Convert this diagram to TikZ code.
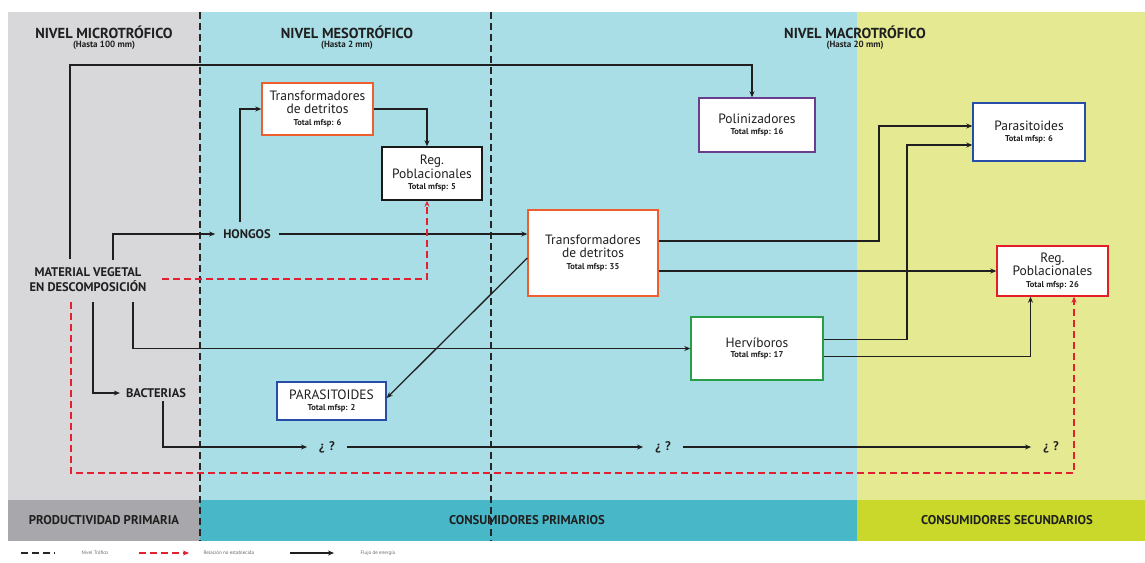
\documentclass[tikz,border=0pt]{standalone}
\usepackage{fontspec}
\setmainfont{PT Sans}
\usetikzlibrary{arrows.meta}

\definecolor{bgGray}{RGB}{216,216,218}
\definecolor{bgBlue}{RGB}{170,222,230}
\definecolor{bgYel}{RGB}{228,233,146}
\definecolor{bandGray}{RGB}{168,168,172}
\definecolor{bandTeal}{RGB}{72,183,199}
\definecolor{bandYel}{RGB}{201,216,42}
\definecolor{relRed}{RGB}{226,32,48}
\definecolor{boxOrange}{RGB}{238,95,45}
\definecolor{boxRed}{RGB}{228,30,38}
\definecolor{boxPurple}{RGB}{105,62,140}
\definecolor{boxBlue}{RGB}{38,78,168}
\definecolor{boxGreen}{RGB}{40,158,72}

\newcommand{\totalsp}[1]{{\fontsize{8.5}{9}\selectfont\bfseries #1}}

\begin{document}
\begin{tikzpicture}[x=1pt,y=-1pt,
    box/.style={draw=#1, fill=white, line width=1.4pt, align=center, inner sep=2pt,
                text=black!88, font=\fontsize{13.5}{13.5}\selectfont},
    flow/.style={-{Stealth[length=6pt,width=5pt]}, line width=1.3pt, black!88},
    rel/.style={-{Stealth[length=6pt,width=5pt]}, line width=1.4pt, relRed,
                dash pattern=on 7pt off 4pt},
    trophic/.style={line width=1.2pt, black!85, dash pattern=on 7pt off 4pt},
    lbl/.style={font=\fontsize{12.5}{15}\selectfont\bfseries, text=black!88, align=center},
    title/.style={font=\fontsize{14.5}{15}\selectfont\bfseries, text=black!88},
    sub/.style={font=\fontsize{9}{10}\selectfont\bfseries, text=black!88},
    band/.style={font=\fontsize{12.7}{13}\selectfont\bfseries, text=black!88},
    legtext/.style={font=\fontsize{5}{6}\selectfont, text=black!60, anchor=west}]
    \useasboundingbox (0,0) rectangle (1145,562);

    % zonas
    \fill[bgGray] (8,12) rectangle (200,500);
    \fill[bgBlue] (200,12) rectangle (857,500);
    \fill[bgYel] (857,12) rectangle (1145,500);
    \fill[bandGray] (8,500) rectangle (200,541);
    \fill[bandTeal] (200,500) rectangle (857,541);
    \fill[bandYel] (857,500) rectangle (1145,541);
    \draw[trophic] (200,12) -- (200,541);
    \draw[trophic] (491,12) -- (491,541);

    % niveles
    \node[title] (micro) at (104,32) {NIVEL MICROTRÓFICO};
    \node[sub] (microH) at (104,45) {(Hasta 100 mm)};
    \node[title] (meso) at (347,32) {NIVEL MESOTRÓFICO};
    \node[sub] (mesoH) at (347,45) {(Hasta 2 mm)};
    \node[title] (macro) at (855,32) {NIVEL MACROTRÓFICO};
    \node[sub] (macroH) at (855,45) {(Hasta 20 mm)};

    \node[band] (prod) at (104,520) {PRODUCTIVIDAD PRIMARIA};
    \node[band] (cons1) at (527,520) {CONSUMIDORES PRIMARIOS};
    \node[band] (cons2) at (1007,520) {CONSUMIDORES SECUNDARIOS};

    % cajas
    \node[box=boxOrange, minimum width=111pt, minimum height=52pt] (tdA) at (317.5,109)
        {Transformadores\\de detritos\\[-2pt]\totalsp{Total mfsp: 6}};
    \node[box=black!90, minimum width=100pt, minimum height=53pt] (rpA) at (432,173.5)
        {Reg.\\Poblacionales\\[-2pt]\totalsp{Total mfsp: 5}};
    \node[box=boxPurple, minimum width=116pt, minimum height=54pt] (polin) at (757,125)
        {Polinizadores\\[-3pt]\totalsp{Total mfsp: 16}};
    \node[box=boxBlue, minimum width=112pt, minimum height=58pt] (parasR) at (1029,132)
        {Parasitoides\\[-3pt]\totalsp{Total mfsp: 6}};
    \node[box=boxOrange, minimum width=130pt, minimum height=86pt] (tdB) at (593,253)
        {Transformadores\\de detritos\\[-2pt]\totalsp{Total mfsp: 35}};
    \node[box=boxRed, minimum width=111pt, minimum height=50pt] (rpB) at (1052.5,271)
        {Reg.\\Poblacionales\\[-2pt]\totalsp{Total mfsp: 26}};
    \node[box=boxGreen, minimum width=132pt, minimum height=63pt] (herv) at (757,348.5)
        {Hervíboros\\[-3pt]\totalsp{Total mfsp: 17}};
    \node[box=boxBlue, minimum width=109pt, minimum height=38pt] (parasL) at (331.5,401)
        {PARASITOIDES\\[-3pt]\totalsp{Total mfsp: 2}};

    % etiquetas
    \node[lbl] (mv) at (88,280) {MATERIAL VEGETAL\\EN DESCOMPOSICIÓN};
    \node[lbl, inner xsep=8pt] (hongos) at (247,234) {HONGOS};
    \node[lbl, inner xsep=6pt] (bact) at (156,393) {BACTERIAS};
    \node[lbl, inner xsep=12pt] (q1) at (327,447) {¿\,\,?};
    \node[lbl, inner xsep=12pt] (q2) at (663,447) {¿\,\,?};
    \node[lbl, inner xsep=12pt] (q3) at (1051,447) {¿\,\,?};

    \coordinate (mvA) at (70,259);
    \coordinate (mvB) at (113,260);
    \coordinate (mvC) at (162,279);
    \coordinate (mvD) at (71,302);
    \coordinate (mvE) at (93,302);
    \coordinate (mvF) at (133,302);
    \coordinate (topC) at (752,65);
    \coordinate (redC) at (1074,473);

    % flujos
    \draw[flow] (mvA) |- (topC) -- (topC |- polin.north);
    \draw[flow] (mvB) |- (hongos.west);
    \draw[flow] ([xshift=-7pt,yshift=4pt]hongos.north) |- (tdA.west);
    \draw[flow] (tdA.east) -| ([xshift=-5pt]rpA.north);
    \draw[flow] (hongos.east) -- (hongos.east -| tdB.west);
    \draw[rel] (mvC) -| ([xshift=-5pt]rpA.south);
    \draw[flow] ([yshift=12pt]tdB.east) -| (879,180) |- ([yshift=6pt]parasR.west);
    \draw[flow] (tdB.east |- rpB.west) -- (rpB.west);
    \draw[flow] ([yshift=-5pt]tdB.west) -- ([yshift=3pt]parasL.east);
    \draw[flow] (mvF) |- (herv.west);
    \draw[flow] (mvE) |- (bact.west);
    \draw[flow] ([yshift=9pt]herv.east) -| (907,200) |- ([yshift=-13pt]parasR.west);
    \draw[flow] ([yshift=-8pt]herv.east) -| ([xshift=-22pt]rpB.south);
    \draw[flow] ([xshift=7pt]bact.south) |- (q1.west);
    \draw[flow] (q1.east) -- (q2.west);
    \draw[flow] (q2.east) -- (q3.west);
    \draw[rel] (mvD) |- (redC) -- (redC |- rpB.south);

    % leyenda
    \node[legtext] (legA) at (78,553) {Nivel Trófico};
    \node[legtext] (legB) at (200,553) {Relación no establecida};
    \node[legtext] (legC) at (357,553) {Flujo de energía};
    \draw[trophic] (21,553) -- (55,553);
    \draw[rel] (139,553) -- (189,553);
    \draw[flow] (290,553) -- (334,553);
\end{tikzpicture}
\end{document}
